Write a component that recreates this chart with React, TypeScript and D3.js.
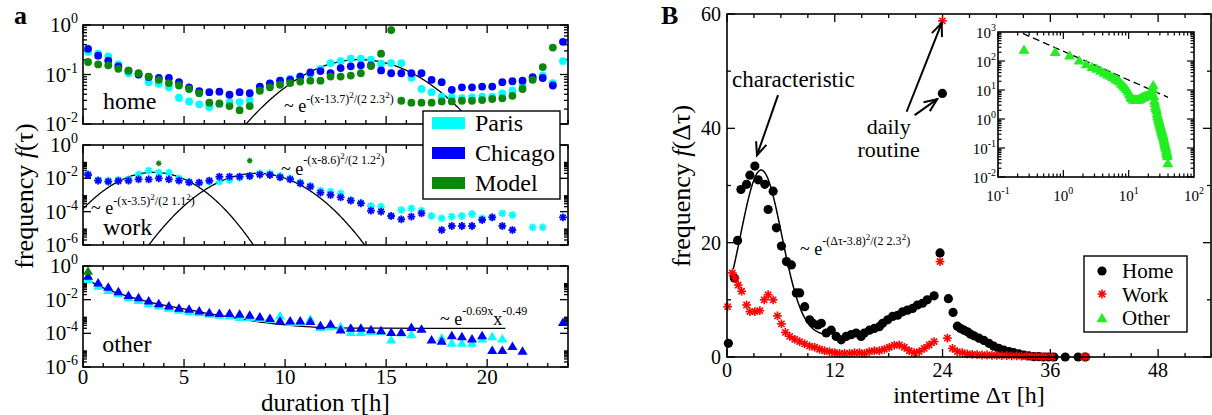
import React from "react";
import * as d3 from "d3";

const FONT = "'Liberation Serif', 'DejaVu Serif', 'Times New Roman', serif";

// ---------------- Panel a : duration distributions ----------------
const hoursA = [0.25, 0.75, 1.25, 1.75, 2.25, 2.75, 3.25, 3.75, 4.25, 4.75, 5.25, 5.75, 6.25, 6.75, 7.25, 7.75, 8.25, 8.75, 9.25, 9.75, 10.25, 10.75, 11.25, 11.75, 12.25, 12.75, 13.25, 13.75, 14.25, 14.75, 15.25, 15.75, 16.25, 16.75, 17.25, 17.75, 18.25, 18.75, 19.25, 19.75, 20.25, 20.75, 21.25, 21.75, 22.25, 22.75, 23.25, 23.75];

const homeParis = [0.286, 0.264, 0.233, 0.16, 0.106, 0.1, 0.07, 0.065, 0.055, 0.034, 0.0286, 0.025, 0.022, 0.025, 0.0277, 0.0277, 0.03, 0.051, 0.065, 0.075, 0.082, 0.092, 0.103, 0.13, 0.17, 0.187, 0.209, 0.209, 0.2, 0.165, 0.17, 0.17, 0.0855, 0.051, 0.044, 0.0356, 0.0345, 0.0334, 0.0345, 0.0356, 0.0356, 0.0415, 0.047, 0.06, 0.0855, 0.096, 0.0665, 0.187];
const homeChicago = [0.33, 0.24, 0.19, 0.146, 0.12, 0.1, 0.089, 0.085, 0.085, 0.07, 0.055, 0.046, 0.044, 0.045, 0.039, 0.044, 0.042, 0.057, 0.066, 0.075, 0.078, 0.091, 0.11, 0.117, 0.106, 0.135, 0.146, 0.153, 0.153, 0.121, 0.106, 0.106, 0.106, 0.106, 0.078, 0.07, 0.049, 0.055, 0.055, 0.057, 0.057, 0.07, 0.073, 0.075, 0.088, 0.085, 0.06, 0.457];
const homeModel = [0.179, 0.16, 0.153, 0.13, 0.12, 0.106, 0.091, 0.078, 0.067, 0.06, 0.051, 0.042, 0.027, 0.026, 0.023, 0.019, 0.023, 0.047, 0.055, 0.062, 0.067, 0.072, 0.075, 0.075, 0.091, 0.091, 0.095, 0.106, 0.148, 0.264, 0.79, 0.0295, 0.027, 0.027, 0.027, 0.0286, 0.0286, 0.0295, 0.0295, 0.0304, 0.032, 0.033, 0.037, 0.051, 0.078, 0.141, 0.35, null];

const workParisLog10 = [-1.74, -2.1, -2.14, -2.1, -2.06, -1.76, -1.54, -1.66, -1.66, -2.0, -2.2, -2.26, -2.2, -2.2, -2.1, -1.96, -1.86, -1.7, -1.7, -1.86, -2.0, -2.25, -2.45, -2.74, -2.8, -2.9, -3.3, -3.46, -3.66, -3.7, -4.26, -3.9, -3.8, -3.94, -4.26, -4.4, -4.3, -4.26, -4.14, -4.4, -4.34, -4.1, -4.2, null, -4.94, -4.94, null, null];
const workChicagoLog10 = [-1.8, -2.14, -2.2, -2.16, -2.14, -2.06, -2.06, -2.0, -2.06, -2.14, -2.24, -2.26, -2.14, -1.9, -1.9, -1.9, -1.86, -1.78, -1.8, -1.94, -2.06, -2.3, -2.5, -2.86, -3.0, -3.14, -3.34, -3.5, -3.94, -4.0, -4.26, -4.46, -4.3, -4.1, null, -5.1, -4.86, -4.86, -4.86, -4.5, -4.34, -4.86, -5.1, null, null, null, null, -4.34];
const workModelHours = [3.75, 8.25];
const workModelLog10 = [-1.1, -0.94];

const otherParisLog10 = [-0.78, -1.18, -1.43, -1.63, -1.86, -2.02, -2.22, -2.35, -2.49, -2.61, -2.69, -2.75, -2.84, -2.9, -2.94, -3.04, -3.04, -3.1, -3.14, -2.94, -3.33, -3.33, -3.14, -3.63, -3.59, -3.59, -3.92, -3.92, -3.86, -3.86, -4.37, -3.95, -4.06, null, null, -4.25, -4.57, -4.57, -4.57, -4.31, -4.18, -4.31, null, null, null, null, null, null];
const otherChicagoLog10 = [-0.59, -0.98, -1.24, -1.51, -1.73, -1.86, -2.06, -2.22, -2.35, -2.49, -2.55, -2.65, -2.75, -2.8, -2.8, -2.84, -2.9, -3.0, -3.1, -3.24, -3.24, -3.24, -3.27, -3.53, -3.43, -3.78, -3.67, -3.67, -3.76, -3.82, -3.92, -3.92, -3.63, -3.73, -4.37, -4.45, -4.12, -4.18, -4.31, -4.12, -5.0, -5.0, -4.76, -5.04, null, null, null, -3.33];
const otherModelHours = [0.25];
const otherModelLog10 = [-0.29];

// fitted curves shown in panel a (parameters from the annotations)
const homeFit = { amp: 0.2, mu: 13.7, sigma: 2.3 };
const workFitEarly = { amp: 0.023, mu: 3.5, sigma: 1.1 };
const workFitLate = { amp: 0.02, mu: 8.6, sigma: 1.2 };
const otherFitHours = [0.25, 0.5, 1, 2, 3, 4, 5, 6, 7, 8, 9, 10, 11, 12, 14, 17, 20.9];
const otherFitLog10 = [-0.8, -1.0, -1.3, -1.72, -2.05, -2.32, -2.55, -2.78, -2.98, -3.18, -3.36, -3.5, -3.6, -3.66, -3.69, -3.7, -3.7];

const legendA = ["Paris", "Chicago", "Model"];

// ---------------- Panel B : intertime ----------------
const homeB: [number, number][] = [[0.15, 2.4], [0.81, 13.8], [1.18, 20.4], [1.55, 29.3], [2.18, 30.2], [2.55, 31.8], [3.1, 33.4], [3.47, 31.0], [4.21, 30.2], [4.58, 25.8], [5.14, 29.0], [5.5, 22.6], [6.06, 19.4], [6.62, 16.7], [7.17, 16.1], [7.72, 11.2], [8.09, 11.2], [8.65, 8.8], [9.2, 6.5], [9.57, 5.9], [10.13, 5.6], [10.5, 5.9], [11.05, 4.2], [11.6, 4.7], [12.16, 3.6], [12.72, 3.0], [13.27, 3.6], [13.82, 3.9], [14.38, 4.2], [14.93, 3.6], [15.3, 4.2], [15.86, 4.7], [16.41, 5.0], [16.96, 5.3], [17.33, 5.9], [17.89, 6.5], [18.44, 7.1], [19.0, 7.3], [19.55, 7.9], [20.1, 8.2], [20.66, 8.5], [21.2, 9.1], [21.77, 9.4], [22.3, 10.0], [23.06, 10.7], [23.72, 18.2], [23.98, 46.1], [24.65, 10.2], [25.17, 7.8], [25.65, 5.4], [26.0, 5.0], [26.39, 4.7], [26.76, 4.4], [27.12, 4.0], [27.5, 3.7], [28.05, 3.3], [28.6, 2.9], [29.16, 2.4], [29.7, 1.9], [30.26, 1.5], [30.82, 1.2], [31.4, 0.94], [31.93, 0.76], [32.5, 0.53], [33.04, 0.35], [33.6, 0.18], [34.15, 0.06], [34.7, 0.06], [35.26, 0], [35.8, 0], [36.4, 0], [37.66, 0], [39.1, 0], [39.9, 0]];
const workB: [number, number][] = [[0.07, 8.8], [0.59, 14.7], [0.89, 13.8], [1.25, 12.6], [1.63, 11.5], [2.18, 9.1], [2.55, 7.95], [3.1, 7.95], [3.66, 8.1], [4.14, 10.0], [4.58, 10.9], [5.14, 10.0], [5.62, 7.2], [6.06, 5.8], [6.5, 4.3], [6.99, 3.6], [7.54, 3.1], [8.09, 2.7], [8.65, 2.3], [9.2, 1.9], [9.76, 1.7], [10.31, 1.35], [10.86, 1.1], [11.42, 0.93], [11.97, 0.75], [12.53, 0.64], [13.08, 0.64], [13.64, 0.64], [14.19, 0.75], [14.75, 0.75], [15.3, 0.64], [15.85, 0.93], [16.41, 1.1], [16.96, 1.1], [17.52, 1.35], [18.07, 1.7], [18.63, 2.05], [19.18, 2.1], [19.74, 1.7], [20.29, 1.1], [20.84, 0.75], [21.4, 0.93], [21.95, 1.5], [22.51, 2.1], [23.06, 2.7], [23.72, 16.7], [23.98, 58.8], [24.54, 3.3], [25.1, 1.5], [25.64, 0.94], [26.2, 0.76], [26.75, 0.53], [27.3, 0.47], [27.85, 0.41], [28.4, 0.35], [28.95, 0.35], [29.5, 0.3], [30.05, 0.3], [30.6, 0.25], [31.15, 0.25], [31.7, 0.2], [32.25, 0.2], [32.8, 0.15], [33.35, 0.15], [33.9, 0.1], [34.45, 0.1], [35.0, 0.05], [35.5, 0.05], [36.2, 0.02], [39.7, 0.02], [40.0, 0.02]];
const bFit = { amp: 29, base: 3.7, mu: 3.8, sigma: 2.3, from: 0.7, to: 11 };
const legendB = ["Home", "Work", "Other"];

// inset: Other intertimes, log-log (hours, log10 frequency)
const insetHours = [0.25, 0.75, 1.25, 1.75, 2.25, 2.75, 3.25, 3.75, 4.25, 4.75, 5.25, 5.75, 6.25, 6.75, 7.25, 7.75, 8.25, 8.75, 9.25, 9.75, 10.25, 10.75, 11.25, 11.75, 12.25, 12.75, 13.25, 13.75, 14.25, 14.75, 15.25, 15.75, 16.25, 16.75, 17.25, 17.75, 18.25, 18.75, 19.25, 19.75, 20.25, 20.75, 21.25, 21.75, 22.25, 22.75, 23.25, 23.75, 24.25, 24.75, 25.25, 25.75, 26.25, 26.75, 27.25, 27.75, 28.25, 28.75, 29.25, 29.75, 30.25, 30.75, 31.25, 31.75, 32.25, 32.75, 33.25, 33.75, 34.25, 34.75, 35.25, 35.75, 36.25, 36.75, 37.25, 37.75, 38.25, 38.75, 39.25, 39.75];
const insetLog10 = [2.4, 2.32, 2.2, 2.03, 1.9, 1.8, 1.74, 1.67, 1.6, 1.54, 1.5, 1.45, 1.4, 1.35, 1.3, 1.22, 1.16, 1.1, 1.04, 0.96, 0.86, 0.77, 0.72, 0.68, 0.68, 0.67, 0.67, 0.68, 0.68, 0.7, 0.72, 0.74, 0.76, 0.77, 0.78, 0.79, 0.8, 0.8, 0.81, 0.82, 0.82, 0.83, 0.84, 0.86, 0.9, 0.95, 1.05, 1.17, 0.8, 0.65, 0.55, 0.45, 0.38, 0.31, 0.2, 0.12, 0.05, -0.03, -0.08, -0.15, -0.2, -0.27, -0.32, -0.38, -0.43, -0.49, -0.53, -0.58, -0.65, -0.72, -0.78, -0.85, -0.9, -0.95, -1.0, -1.08, -1.15, -1.2, -1.28, -1.52];
const insetPowerLaw: [number, number][] = [[0.24, 890], [40, 5.6]];

const PARIS = "#00ffff";
const CHICAGO = "#0000ff";
const MODEL = "#0b870b";
const LIME = "#22ee22";
const RED = "#ff0000";

const sup = (e: number) => (e === 0 ? "0" : e < 0 ? `-${-e}` : `${e}`);

function Star({ x, y, s, color, w }: any) {
  const d = s * 0.7071;
  return (
    <g stroke={color} strokeWidth={w}>
      <line x1={x - s} y1={y} x2={x + s} y2={y} />
      <line x1={x} y1={y - s} x2={x} y2={y + s} />
      <line x1={x - d} y1={y - d} x2={x + d} y2={y + d} />
      <line x1={x - d} y1={y + d} x2={x + d} y2={y - d} />
    </g>
  );
}

function Tri({ x, y, s, color }: any) {
  return <path d={`M${x},${y - s}L${x + s * 1.1},${y + s * 0.85}L${x - s * 1.1},${y + s * 0.85}Z`} fill={color} />;
}

function Arrow({ x1, y1, x2, y2, head = 14, ang = 0.4 }: any) {
  const a = Math.atan2(y2 - y1, x2 - x1);
  const p1 = [x2 - head * Math.cos(a - ang), y2 - head * Math.sin(a - ang)];
  const p2 = [x2 - head * Math.cos(a + ang), y2 - head * Math.sin(a + ang)];
  return (
    <g stroke="#000" strokeWidth={2} fill="none">
      <line x1={x1} y1={y1} x2={x2} y2={y2} />
      <polyline points={`${p1[0]},${p1[1]} ${x2},${y2} ${p2[0]},${p2[1]}`} />
    </g>
  );
}

export default function App() {
  // ---------- panel a scales ----------
  const xA = d3.scaleLinear().domain([0, 24]).range([83, 568]);
  const subs = [
    { key: "home", top: 25, bottom: 124, minE: -2, labels: [0, -1, -2], minorE: [-2, -1] },
    { key: "work", top: 145, bottom: 245, minE: -6, labels: [0, -2, -4, -6], minorE: [-6, -4, -2] },
    { key: "other", top: 266, bottom: 367, minE: -6, labels: [0, -2, -4, -6], minorE: [-6, -4, -2] },
  ];
  const yS = subs.map((s) => d3.scaleLog().domain([Math.pow(10, s.minE), 1]).range([s.bottom, s.top]));
  const [yHome, yWork, yOther] = yS;

  const xMajorA = [0, 5, 10, 15, 20];
  const xMinorA = d3.range(0, 25, 1).filter((v) => v % 5 !== 0);

  const gaussLine = (fit: any, y: any) => {
    const ts = d3.range(0, 24.001, 0.05);
    return d3
      .line<number>()
      .x((t) => xA(t))
      .y((t) => y(Math.max(1e-9, fit.amp * Math.exp(-((t - fit.mu) ** 2) / (2 * fit.sigma ** 2)))))(ts);
  };

  const otherFitPath = d3
    .line<number>()
    .x((_, i) => xA(otherFitHours[i]))
    .y((v) => yOther(Math.pow(10, v)))
    .curve(d3.curveMonotoneX)(otherFitLog10);

  // ---------- panel B scales ----------
  const xB = d3.scaleLinear().domain([0, 54]).range([727, 1212]);
  const yB = d3.scaleLinear().domain([0, 60]).range([357, 14]);
  const bFitPath = d3
    .line<number>()
    .x((t) => xB(t))
    .y((t) => yB(bFit.base + bFit.amp * Math.exp(-((t - bFit.mu) ** 2) / (2 * bFit.sigma ** 2))))(
      d3.range(bFit.from, bFit.to + 0.001, 0.05)
    );

  const xI = d3.scaleLog().domain([0.1, 100]).range([998, 1194]);
  const yI = d3.scaleLog().domain([0.01, 1000]).range([177, 32]);

  const ticksLog = (s: any, y: any, left: number, right: number) => {
    const out: any[] = [];
    for (let e = s.minE; e <= 0; e++) {
      if (s.labels.includes(e)) {
        const yy = y(Math.pow(10, e));
        out.push(<line key={`M${e}`} x1={left} y1={yy} x2={left + 8} y2={yy} />);
        out.push(<line key={`MR${e}`} x1={right} y1={yy} x2={right - 8} y2={yy} />);
      }
    }
    s.minorE.forEach((e: number) => {
      for (let k = 2; k <= 9; k++) {
        const yy = y(k * Math.pow(10, e));
        out.push(<line key={`m${e}${k}`} x1={left} y1={yy} x2={left + 4} y2={yy} />);
        out.push(<line key={`mR${e}${k}`} x1={right} y1={yy} x2={right - 4} y2={yy} />);
      }
    });
    return out;
  };

  return (
    <svg width={1212} height={415} style={{ position: "absolute", left: 0, top: 0, background: "#fff", fontFamily: FONT }}>
      <defs>
        {subs.map((s) => (
          <clipPath id={`clip-${s.key}`} key={s.key}>
            <rect x={xA(0)} y={s.top} width={xA(24) - xA(0)} height={s.bottom - s.top} />
          </clipPath>
        ))}
        <clipPath id="clip-B">
          <rect x={727} y={14} width={485} height={343} />
        </clipPath>
      </defs>

      {/* ================= Panel a ================= */}
      <text x={14} y={24} fontSize={26} fontWeight="bold">a</text>
      <text transform="translate(33,196) rotate(-90)" textAnchor="middle" fontSize={26}>
        frequency <tspan fontStyle="italic">f</tspan>(τ)
      </text>

      {subs.map((s, si) => {
        const y = yS[si];
        return (
          <g key={s.key}>
            <g stroke="#000" strokeWidth={1.3}>
              {ticksLog(s, y, xA(0), xA(24))}
              {xMajorA.map((v) => (
                <g key={`xa${v}`}>
                  <line x1={xA(v)} y1={s.bottom} x2={xA(v)} y2={s.bottom - 8} />
                  <line x1={xA(v)} y1={s.top} x2={xA(v)} y2={s.top + 8} />
                </g>
              ))}
              {xMinorA.map((v) => (
                <g key={`xi${v}`}>
                  <line x1={xA(v)} y1={s.bottom} x2={xA(v)} y2={s.bottom - 4} />
                  <line x1={xA(v)} y1={s.top} x2={xA(v)} y2={s.top + 4} />
                </g>
              ))}
            </g>
            {s.labels.map((e) => (
              <text key={`l${e}`} x={78} y={y(Math.pow(10, e)) + 7} fontSize={21} textAnchor="end">
                10<tspan dy={-9} fontSize={14}>{sup(e)}</tspan>
              </text>
            ))}
          </g>
        );
      })}

      {/* home */}
      <path d={gaussLine(homeFit, yHome) || ""} fill="none" stroke="#000" strokeWidth={1.3} clipPath="url(#clip-home)" />
      {homeParis.map((v, i) => v != null && <circle key={`hp${i}`} cx={xA(hoursA[i])} cy={yHome(v)} r={3.9} fill={PARIS} />)}
      {homeChicago.map((v, i) => v != null && <circle key={`hc${i}`} cx={xA(hoursA[i])} cy={yHome(v)} r={3.9} fill={CHICAGO} />)}
      {homeModel.map((v, i) => v != null && <circle key={`hm${i}`} cx={xA(hoursA[i])} cy={yHome(v)} r={3.9} fill={MODEL} />)}
      <text x={xA(0.99)} y={yHome(0.02)} fontSize={24}>home</text>
      <text x={xA(9.95)} y={yHome(0.0174)} fontSize={18}>
        ~ e<tspan dy={-9} fontSize={12}>-(x-13.7)</tspan>
        <tspan dy={-5} fontSize={9}>2</tspan>
        <tspan dy={5} fontSize={12}>/(2 2.3</tspan>
        <tspan dy={-5} fontSize={9}>2</tspan>
        <tspan dy={5} fontSize={12}>)</tspan>
      </text>

      {/* work */}
      <g clipPath="url(#clip-work)" fill="none" stroke="#000" strokeWidth={1.3}>
        <path d={gaussLine(workFitEarly, yWork) || ""} />
        <path d={gaussLine(workFitLate, yWork) || ""} />
      </g>
      {workParisLog10.map((v, i) => v != null && <Star key={`wp${i}`} x={xA(hoursA[i])} y={yWork(Math.pow(10, v))} s={3.9} color={PARIS} w={1.8} />)}
      {workChicagoLog10.map((v, i) => v != null && <Star key={`wc${i}`} x={xA(hoursA[i])} y={yWork(Math.pow(10, v))} s={3.9} color={CHICAGO} w={1.8} />)}
      {workModelLog10.map((v, i) => <Star key={`wm${i}`} x={xA(workModelHours[i])} y={yWork(Math.pow(10, v))} s={2.8} color={MODEL} w={1.4} />)}
      <text x={xA(0.99)} y={yWork(4e-6)} fontSize={24}>work</text>
      <text x={xA(0.4)} y={yWork(7.2e-5)} fontSize={18}>
        ~ e<tspan dy={-9} fontSize={12}>-(x-3.5)</tspan>
        <tspan dy={-5} fontSize={9}>2</tspan>
        <tspan dy={5} fontSize={12}>/(2 1.1</tspan>
        <tspan dy={-5} fontSize={9}>2</tspan>
        <tspan dy={5} fontSize={12}>)</tspan>
      </text>
      <text x={xA(9.8)} y={yWork(0.0158)} fontSize={18}>
        ~ e<tspan dy={-11} fontSize={12}>-(x-8.6)</tspan>
        <tspan dy={-5} fontSize={9}>2</tspan>
        <tspan dy={5} fontSize={12}>/(2 1.2</tspan>
        <tspan dy={-5} fontSize={9}>2</tspan>
        <tspan dy={5} fontSize={12}>)</tspan>
      </text>

      {/* other */}
      <path d={otherFitPath || ""} fill="none" stroke="#000" strokeWidth={1.3} clipPath="url(#clip-other)" />
      {otherParisLog10.map((v, i) => v != null && <Tri key={`op${i}`} x={xA(hoursA[i])} y={yOther(Math.pow(10, v))} s={4.6} color={PARIS} />)}
      {otherChicagoLog10.map((v, i) => v != null && <Tri key={`oc${i}`} x={xA(hoursA[i])} y={yOther(Math.pow(10, v))} s={4.6} color={CHICAGO} />)}
      {otherModelLog10.map((v, i) => <Tri key={`om${i}`} x={xA(otherModelHours[i])} y={yOther(Math.pow(10, v))} s={4.6} color={MODEL} />)}
      <text x={xA(0.95)} y={yOther(7.7e-6)} fontSize={24}>other</text>
      <text x={xA(17.67)} y={yOther(3.2e-4)} fontSize={18}>
        ~ e<tspan dy={-10} fontSize={12}>-0.69x</tspan>
        <tspan dy={10} fontSize={18}>x</tspan>
        <tspan dy={-10} fontSize={12}>-0.49</tspan>
      </text>

      {/* frames */}
      {subs.map((s) => (
        <rect key={`f${s.key}`} x={xA(0)} y={s.top} width={xA(24) - xA(0)} height={s.bottom - s.top} fill="none" stroke="#000" strokeWidth={1.6} />
      ))}

      {/* x tick labels */}
      {xMajorA.map((v) => (
        <text key={`xl${v}`} x={xA(v)} y={384} fontSize={21} textAnchor="middle">{v}</text>
      ))}
      <text x={(xA(0) + xA(24)) / 2} y={411} fontSize={25} textAnchor="middle">duration τ[h]</text>

      {/* legend a */}
      <rect x={423} y={111} width={137} height={88} fill="#fff" stroke="#000" strokeWidth={1.4} />
      {legendA.map((name, i) => (
        <g key={name}>
          <rect x={432} y={117 + i * 30} width={33} height={12} fill={[PARIS, CHICAGO, MODEL][i]} />
          <text x={475} y={131 + i * 30} fontSize={24}>{name}</text>
        </g>
      ))}

      {/* ================= Panel B ================= */}
      <text x={661} y={24} fontSize={26} fontWeight="bold">B</text>
      <text transform="translate(690,186) rotate(-90)" textAnchor="middle" fontSize={26}>
        frequency <tspan fontStyle="italic">f</tspan>(Δτ)
      </text>

      <g stroke="#000" strokeWidth={1.3}>
        {d3.range(0, 55, 3).map((v) => {
          const len = v % 12 === 0 ? 8 : 4;
          return (
            <g key={`bx${v}`}>
              <line x1={xB(v)} y1={357} x2={xB(v)} y2={357 - len} />
              <line x1={xB(v)} y1={14} x2={xB(v)} y2={14 + len} />
            </g>
          );
        })}
        {d3.range(0, 61, 10).map((v) => {
          const len = v % 20 === 0 ? 8 : 4;
          return (
            <g key={`by${v}`}>
              <line x1={727} y1={yB(v)} x2={727 + len} y2={yB(v)} />
              <line x1={1211} y1={yB(v)} x2={1211 - len} y2={yB(v)} />
            </g>
          );
        })}
      </g>
      {[0, 20, 40, 60].map((v) => (
        <text key={`byl${v}`} x={721} y={yB(v) + 7} fontSize={20} textAnchor="end">{v}</text>
      ))}
      {[0, 12, 24, 36, 48].map((v) => (
        <text key={`bxl${v}`} x={xB(v)} y={377} fontSize={20} textAnchor="middle">{v}</text>
      ))}
      <text x={969} y={403} fontSize={24} textAnchor="middle">intertime Δτ [h]</text>

      <path d={bFitPath || ""} fill="none" stroke="#000" strokeWidth={1.5} clipPath="url(#clip-B)" />
      {homeB.map(([t, v], i) => <circle key={`bh${i}`} cx={xB(t)} cy={yB(v)} r={4.6} fill="#000" />)}
      {workB.map(([t, v], i) => <Star key={`bw${i}`} x={xB(t)} y={yB(v)} s={4.4} color={RED} w={1.6} />)}

      <text x={xB(8.13)} y={yB(17.8)} fontSize={18}>
        ~ e<tspan dy={-10} fontSize={12}>-(Δτ-3.8)</tspan>
        <tspan dy={-5} fontSize={9}>2</tspan>
        <tspan dy={5} fontSize={12}>/(2 2.3</tspan>
        <tspan dy={-5} fontSize={9}>2</tspan>
        <tspan dy={5} fontSize={12}>)</tspan>
      </text>

      <text x={xB(0.56)} y={yB(47.2)} fontSize={23}>characteristic</text>
      <Arrow x1={xB(5.68)} y1={yB(45.8)} x2={xB(3.34)} y2={yB(35.3)} />
      <text x={xB(18.0)} y={yB(39.0)} fontSize={22} textAnchor="middle">daily</text>
      <text x={xB(18.0)} y={yB(34.9)} fontSize={22} textAnchor="middle">routine</text>
      <Arrow x1={xB(20.0)} y1={yB(42.9)} x2={xB(23.9)} y2={yB(58.4)} />
      <Arrow x1={xB(20.9)} y1={yB(42.3)} x2={xB(23.4)} y2={yB(45.1)} />

      <rect x={727} y={14} width={484} height={343} fill="none" stroke="#000" strokeWidth={1.6} />

      {/* legend B */}
      <rect x={1084} y={256} width={103} height={76} fill="#fff" stroke="#000" strokeWidth={1.4} />
      <circle cx={1102} cy={271} r={4.6} fill="#000" />
      <Star x={1102} y={294} s={4.4} color={RED} w={1.6} />
      <Tri x={1102} y={318} s={5} color={LIME} />
      {legendB.map((name, i) => (
        <text key={name} x={1122} y={278 + i * 23.5} fontSize={21}>{name}</text>
      ))}

      {/* inset */}
      <rect x={998} y={32} width={196} height={145} fill="#fff" />
      <g stroke="#000" strokeWidth={1.2}>
        {d3.range(-1, 2).flatMap((e) =>
          d3.range(1, 10).map((k) => {
            const v = k * Math.pow(10, e);
            const len = k === 1 ? 7 : 3.5;
            return (
              <g key={`ix${e}${k}`}>
                <line x1={xI(v)} y1={177} x2={xI(v)} y2={177 - len} />
                <line x1={xI(v)} y1={32} x2={xI(v)} y2={32 + len} />
              </g>
            );
          })
        )}
        {d3.range(-2, 3).flatMap((e) =>
          d3.range(1, 10).map((k) => {
            const v = k * Math.pow(10, e);
            const len = k === 1 ? 7 : 3.5;
            return (
              <g key={`iy${e}${k}`}>
                <line x1={998} y1={yI(v)} x2={998 + len} y2={yI(v)} />
                <line x1={1194} y1={yI(v)} x2={1194 - len} y2={yI(v)} />
              </g>
            );
          })
        )}
      </g>
      {[-2, -1, 0, 1, 2, 3].map((e) => (
        <text key={`iyl${e}`} x={996} y={yI(Math.pow(10, e)) + 6} fontSize={15} textAnchor="end">
          10<tspan dy={-7} fontSize={10}>{sup(e)}</tspan>
        </text>
      ))}
      {[-1, 0, 1, 2].map((e) => (
        <text key={`ixl${e}`} x={xI(Math.pow(10, e))} y={201} fontSize={15} textAnchor="middle">
          10<tspan dy={-7} fontSize={10}>{sup(e)}</tspan>
        </text>
      ))}
      <path
        d={d3.line<[number, number]>().x((d) => xI(d[0])).y((d) => yI(d[1]))(insetPowerLaw) || ""}
        fill="none"
        stroke="#000"
        strokeWidth={1.3}
        strokeDasharray="7,4"
      />
      {insetLog10.map((v, i) => <Tri key={`io${i}`} x={xI(insetHours[i])} y={yI(Math.pow(10, v))} s={5} color={LIME} />)}
      <rect x={998} y={32} width={196} height={145} fill="none" stroke="#000" strokeWidth={1.6} />
    </svg>
  );
}
